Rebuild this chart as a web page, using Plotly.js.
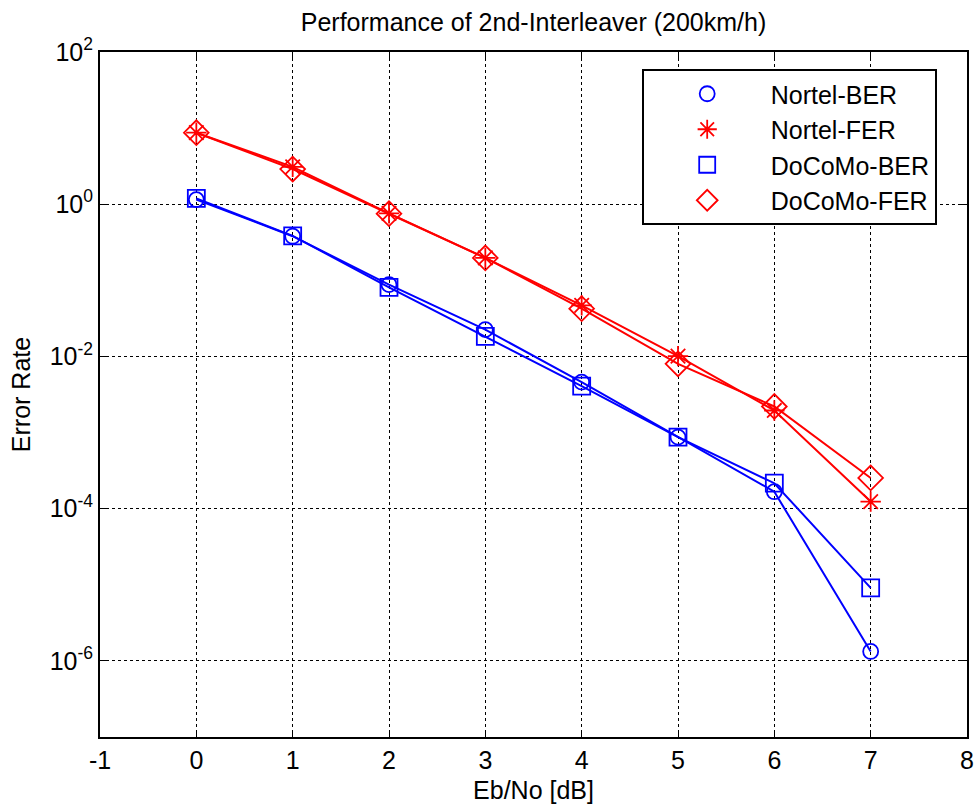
<!DOCTYPE html>
<html>
<head>
<meta charset="utf-8">
<script src="https://cdn.plot.ly/plotly-3.0.1.min.js"></script>
<style>html,body{margin:0;padding:0;background:#fff;}#chart{width:978px;height:812px;}</style>
</head>
<body>
<div id="chart"></div>
<script>
// Eb/No values (dB)
var ebno = [0, 1, 2, 3, 4, 5, 6, 7];
// Series values
var nortelBER  = [1.15, 0.38, 0.0878, 0.0225, 0.0046, 0.00087, 1.67e-4, 1.33e-6];
var nortelFER  = [8.7, 3.1, 0.76, 0.197, 0.0469, 0.0101, 1.95e-3, 1.24e-4];
var docomoBER  = [1.19, 0.384, 0.081, 0.0183, 0.00408, 0.00087, 2.16e-4, 9.1e-6];
var docomoFER  = [8.7, 2.9, 0.75, 0.197, 0.0424, 0.0080, 2.2e-3, 2.53e-4];
var seriesNames = ['Nortel-BER', 'Nortel-FER', 'DoCoMo-BER', 'DoCoMo-FER'];
var xTickVals = [-1, 0, 1, 2, 3, 4, 5, 6, 7, 8];
var xTickText = ['-1', '0', '1', '2', '3', '4', '5', '6', '7', '8'];
var yTickVals = [1e-6, 1e-4, 1e-2, 1e0, 1e2];
var yTickText = ['10<sup>-6</sup>', '10<sup>-4</sup>', '10<sup>-2</sup>', '10<sup>0</sup>', '10<sup>2</sup>'];

var FONT = 'Liberation Sans, Arial, Helvetica, sans-serif';
var BLUE = '#0000ff', RED = '#ff0000';

var series = [
  {y: nortelBER, color: BLUE, symbol: 'circle-open', size: 15},
  {y: nortelFER, color: RED, symbol: 'asterisk-open', size: 17},
  {y: docomoBER, color: BLUE, symbol: 'square-open', size: 17},
  {y: docomoFER, color: RED, symbol: 'diamond-open', size: 19}
];

var traces = [];
series.forEach(function (s, i) {
  traces.push({
    x: ebno, y: s.y, type: 'scatter', mode: 'lines',
    line: {color: s.color, width: 2}, showlegend: false, hoverinfo: 'skip'
  });
});
series.forEach(function (s, i) {
  traces.push({
    x: ebno, y: s.y, type: 'scatter', mode: 'markers', name: seriesNames[i],
    marker: {symbol: s.symbol, size: s.size, color: s.color, line: {color: s.color, width: 1.8}}
  });
});

var axisCommon = {
  showline: true, mirror: 'ticks', linecolor: '#000', linewidth: 2,
  ticks: 'inside', ticklen: 7, tickcolor: '#000', tickwidth: 1,
  showgrid: true, gridcolor: '#000', gridwidth: 1, griddash: 'dot',
  zeroline: false, tickfont: {family: FONT, size: 25, color: '#000'}
};

var layout = {
  width: 978, height: 812,
  margin: {l: 100, r: 11, t: 52, b: 75, pad: 0},
  paper_bgcolor: '#fff', plot_bgcolor: '#fff',
  font: {family: FONT, size: 25, color: '#000'},
  title: {text: 'Performance of 2nd-Interleaver (200km/h)', font: {family: FONT, size: 25, color: '#000'},
          xref: 'paper', x: 0.5, xanchor: 'center', yref: 'container', y: 1 - 22 / 812, yanchor: 'middle'},
  xaxis: Object.assign({}, axisCommon, {
    range: [-1, 8], tickmode: 'array', tickvals: xTickVals, ticktext: xTickText,
    title: {text: 'Eb/No [dB]', font: {family: FONT, size: 25, color: '#000'}, standoff: 8}
  }),
  yaxis: Object.assign({}, axisCommon, {
    type: 'log', range: [-7, 2], tickmode: 'array', tickvals: yTickVals, ticktext: yTickText,
    title: {text: 'Error Rate', font: {family: FONT, size: 25, color: '#000'}, standoff: 12}
  }),
  legend: {
    x: (641.7 - 100) / 867, y: (737 - 69) / 685, xanchor: 'left', yanchor: 'top',
    bgcolor: '#fff', bordercolor: '#000', borderwidth: 2,
    font: {family: FONT, size: 25, color: '#000'}, itemwidth: 117, tracegroupgap: 0
  },
  showlegend: true
};

Plotly.newPlot('chart', traces, layout, {staticPlot: true, displayModeBar: false});
</script>
</body>
</html>
